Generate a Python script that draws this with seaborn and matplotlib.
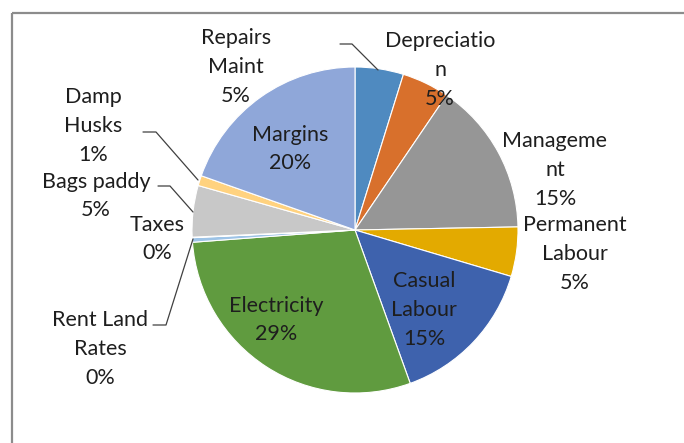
import numpy as np
import matplotlib
matplotlib.use("Agg")
import matplotlib.pyplot as plt
import seaborn as sns

# cost shares, clockwise from 12 o'clock
categorias = ["Repairs Maint", "Depreciation", "Management", "Permanent Labour",
              "Casual Labour", "Electricity", "Rent Land Rates", "Taxes",
              "Bags paddy", "Damp Husks", "Margins"]
valores = [4.8, 4.7, 15.2, 4.9, 14.9, 29.3, 0.45, 0.05, 5.1, 1.0, 19.6]
# texto de las etiquetas tal como aparece (Excel corta las palabras)
etiquetas = ["Repairs\nMaint", "Depreciatio\nn", "Manageme\nnt", "Permanent\nLabour",
             "Casual\nLabour", "Electricity", "Rent Land\nRates", "Taxes",
             "Bags paddy", "Damp\nHusks", "Margins"]
colores = ["#4f8ac0", "#d8702c", "#969696", "#e3aa00", "#3e62ad", "#609b3f",
           "#9dc3e6", "#f4b183", "#c8c8c8", "#ffd27f", "#8fa7d9"]

sns.set_style("white")
plt.rcParams['font.family'] = ['Lato', 'DejaVu Sans']

W, H = 684, 443
fig = plt.figure(figsize=(W / 100, H / 100), dpi=100)
fig.patch.set_edgecolor("none")
ax = fig.add_axes([0, 0, 1, 1])

def py(y):
    # pixel y (desde arriba) -> coordenada del eje
    return H - y

cx, cy, r = 355, 230, 163
ax.pie(valores, colors=sns.color_palette(colores), startangle=90, counterclock=False,
       center=(cx, py(cy)), radius=r,
       wedgeprops=dict(edgecolor="white", linewidth=0.8))
ax.set_xlim(0, W)
ax.set_ylim(0, H)
ax.set_aspect("equal")
ax.axis("off")

total = sum(valores)
pcts = [f"{round(v / total * 100):.0f}%" for v in valores]

# posiciones de las etiquetas (pixeles)
pos = {
    "Repairs Maint": (236, 67),
    "Depreciation": (440, 70),
    "Management": (555, 170),
    "Permanent Labour": (575, 254),
    "Casual Labour": (424, 310),
    "Electricity": (276, 320),
    "Rent Land Rates": (100, 349),
    "Taxes": (157, 239),
    "Bags paddy": (96, 196),
    "Damp Husks": (93, 126),
    "Margins": (290, 149),
}
for cat, lab, p in zip(categorias, etiquetas, pcts):
    x, y = pos[cat]
    ax.text(x, py(y), lab + "\n" + p, ha="center", va="center", fontsize=15.5,
            color="#1e1e1e", linespacing=1.55)

# lineas guia
guias = [
    [(340, 44), (352, 44), (378, 70)],
    [(143, 132), (156, 132), (198, 180)],
    [(158, 186), (170, 186), (193, 212)],
    [(153, 325), (166, 325), (193, 239)],
]
for g in guias:
    xs = [a for a, b in g]
    ys = [py(b) for a, b in g]
    ax.plot(xs, ys, color="#404040", lw=0.9)

# marco del grafico (solo izquierda y arriba son visibles)
ax.plot([12, 12], [py(H), py(13)], color="#8c8c8c", lw=1.6, solid_capstyle="butt")
ax.plot([12, W], [py(13), py(13)], color="#8c8c8c", lw=1.6, solid_capstyle="butt")

fig.savefig("out.png", dpi=100)
